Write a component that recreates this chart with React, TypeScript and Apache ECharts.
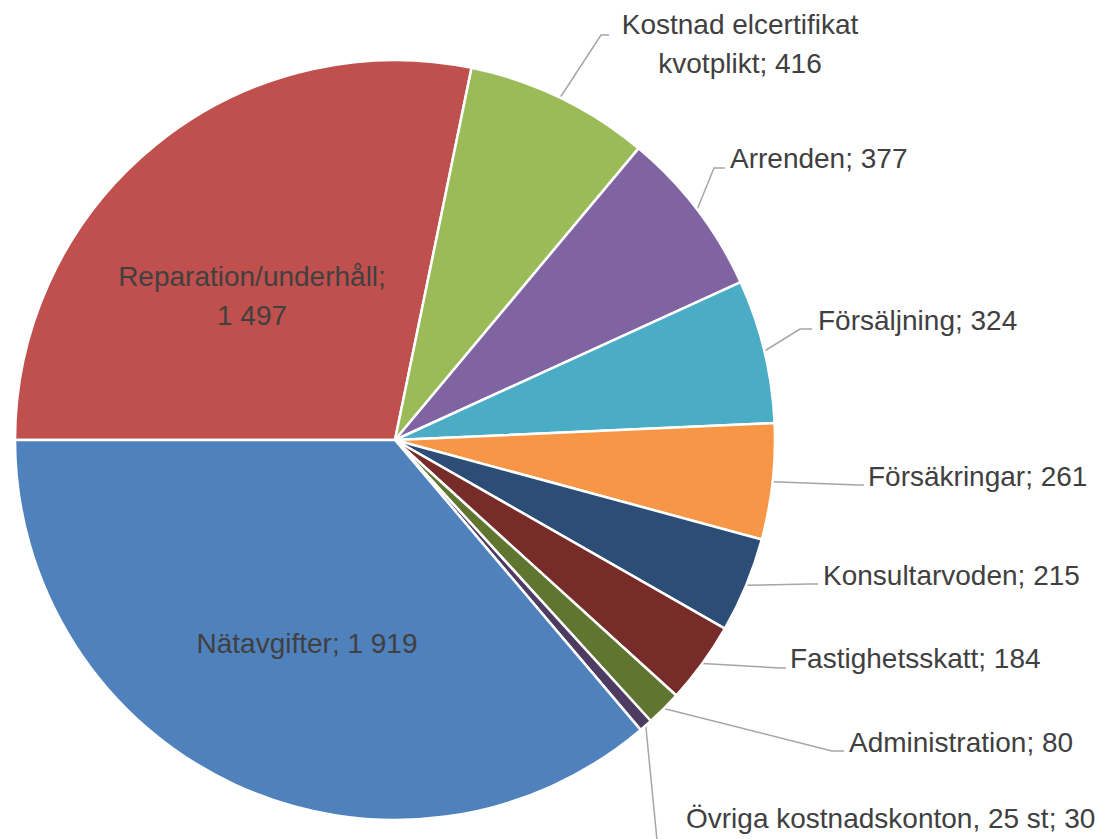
import React, { useEffect, useRef } from "react";
import * as echarts from "echarts";

const categories = [
  "Reparation/underhåll",
  "Kostnad elcertifikat kvotplikt",
  "Arrenden",
  "Försäljning",
  "Försäkringar",
  "Konsultarvoden",
  "Fastighetsskatt",
  "Administration",
  "Övriga kostnadskonton, 25 st",
  "Nätavgifter",
];
const values = [1497, 416, 377, 324, 261, 215, 184, 80, 30, 1919];
const colors = [
  "#C0504D",
  "#9BBB59",
  "#8064A2",
  "#4BACC6",
  "#F79646",
  "#2C4D75",
  "#772C2A",
  "#5F7530",
  "#4D3B62",
  "#4F81BD",
];
const insideLabels = [0, 9];

// label layout (anchor of the text and bend points of the leader line)
const labelPos: { x: number; y: number; align: string; line: number[][] | null }[] = [
  { x: 252, y: 296, align: "center", line: null },
  { x: 740, y: 44, align: "center", line: [[601, 35], [609, 35]] },
  { x: 730, y: 158, align: "left", line: [[714, 168], [725, 168]] },
  { x: 818, y: 320, align: "left", line: [[800, 329], [812, 329]] },
  { x: 868, y: 476, align: "left", line: [[858, 485], [864, 485]] },
  { x: 823, y: 575, align: "left", line: [[810, 584], [818, 584]] },
  { x: 790, y: 658, align: "left", line: [[780, 668], [786, 668]] },
  { x: 849, y: 742, align: "left", line: [[832, 751], [844, 751]] },
  { x: 686, y: 818, align: "left", line: [[658, 850], [660, 850]] },
  { x: 307, y: 643, align: "center", line: null },
];

const fmt = (v: number) => String(v).replace(/\B(?=(\d{3})+(?!\d))/g, " ");

function labelText(i: number, name: string, v: number): string {
  if (i === 0) return `${name};\n${fmt(v)}`;
  if (i === 1) return `${name.replace(/ (\S+)$/, "\n$1")}; ${fmt(v)}`;
  return `${name}; ${fmt(v)}`;
}

export default function App() {
  const ref = useRef<HTMLDivElement>(null);
  useEffect(() => {
    if (!ref.current) return;
    const chart = echarts.init(ref.current, undefined, { renderer: "svg" });
    const data = categories.map((name, i) => {
      const inside = insideLabels.includes(i);
      return {
        name,
        value: values[i],
        itemStyle: { color: colors[i] },
        label: inside ? { position: "inside" } : { position: "outside" },
        labelLine: { show: !inside },
      };
    });
    chart.setOption({
      animation: false,
      backgroundColor: "#ffffff",
      series: [
        {
          type: "pie",
          center: [395, 440],
          radius: 380,
          startAngle: 180,
          clockwise: true,
          avoidLabelOverlap: false,
          data,
          itemStyle: { borderColor: "#ffffff", borderWidth: 2.5 },
          label: {
            fontFamily: "Liberation Sans",
            fontSize: 28,
            color: "#404040",
            lineHeight: 39,
            formatter: (p: any) => labelText(p.dataIndex, p.name, p.value),
          },
          labelLine: {
            lineStyle: { color: "#A6A6A6", width: 1.5 },
          },
          labelLayout: (params: any) => {
            const pos = labelPos[params.dataIndex];
            const out: any = {
              x: pos.x,
              y: pos.y,
              align: pos.align,
              verticalAlign: "middle",
            };
            if (pos.line && params.labelLinePoints) {
              out.labelLinePoints = [params.labelLinePoints[0], ...pos.line];
            }
            return out;
          },
        },
      ],
    });
    return () => chart.dispose();
  }, []);
  return (
    <div
      ref={ref}
      style={{ position: "absolute", left: 0, top: 0, width: 1112, height: 839 }}
    />
  );
}
